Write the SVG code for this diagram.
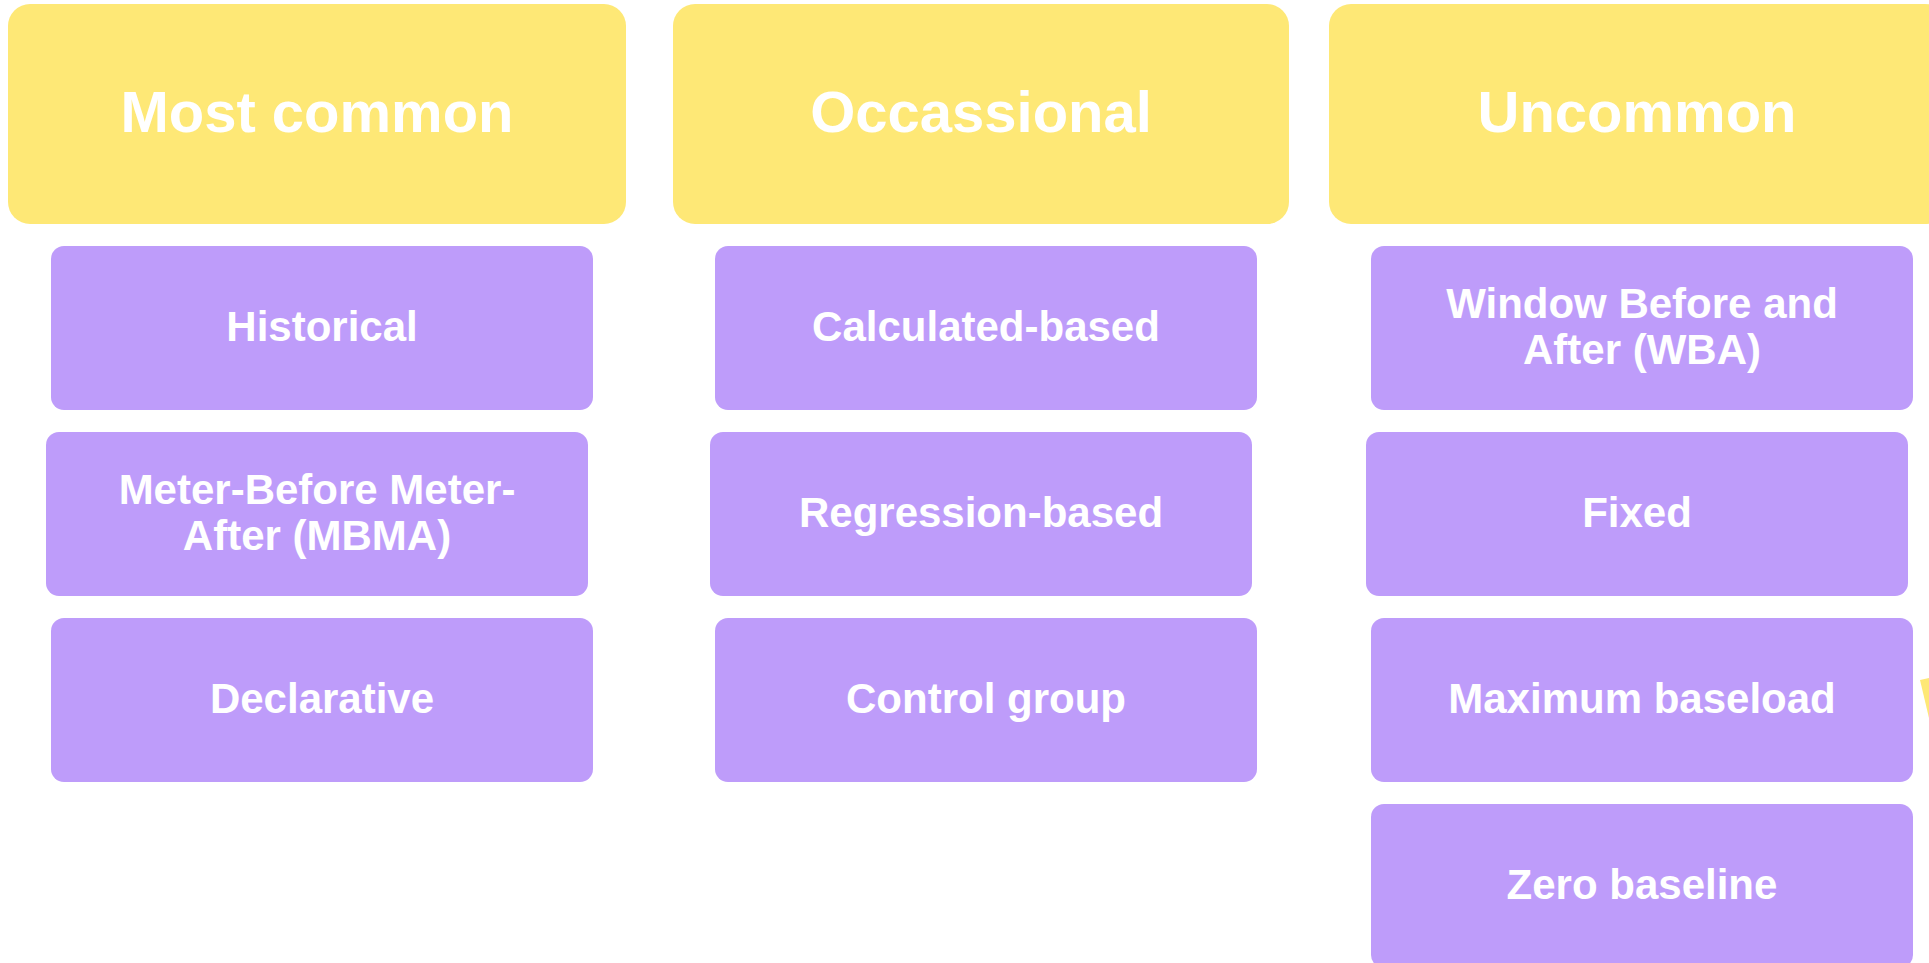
<svg xmlns="http://www.w3.org/2000/svg" width="1929" height="963" viewBox="0 0 1929 963">
<style>
.hdr{fill:#FEE876}
.itm{fill:#BE9CFA}
text{font-family:"Liberation Sans",Arial,sans-serif;font-weight:bold;fill:#FFFFFF;text-anchor:middle}
.ht{font-size:58px}
.it{font-size:42px}
</style>
<rect width="1929" height="963" fill="#FFFFFF"/>
<g id="h-most-common"><rect class="hdr" x="8" y="4" width="618" height="220" rx="22"/><text class="ht" x="317" y="132">Most common</text></g>
<g id="h-occassional"><rect class="hdr" x="673" y="4" width="616" height="220" rx="22"/><text class="ht" x="981" y="132">Occassional</text></g>
<g id="h-uncommon"><rect class="hdr" x="1329" y="4" width="618" height="220" rx="22"/><text class="ht" x="1637" y="132">Uncommon</text></g>

<g id="n-historical"><rect class="itm" x="51" y="246" width="542" height="164" rx="13"/><text class="it" x="322" y="341">Historical</text></g>
<g id="n-mbma"><rect class="itm" x="46" y="432" width="542" height="164" rx="13"/><text class="it" x="317" y="504">Meter-Before Meter-</text><text class="it" x="317" y="550">After (MBMA)</text></g>
<g id="n-declarative"><rect class="itm" x="51" y="618" width="542" height="164" rx="13"/><text class="it" x="322" y="713">Declarative</text></g>

<g id="n-calculated"><rect class="itm" x="715" y="246" width="542" height="164" rx="13"/><text class="it" x="986" y="341">Calculated-based</text></g>
<g id="n-regression"><rect class="itm" x="710" y="432" width="542" height="164" rx="13"/><text class="it" x="981" y="527">Regression-based</text></g>
<g id="n-control"><rect class="itm" x="715" y="618" width="542" height="164" rx="13"/><text class="it" x="986" y="713">Control group</text></g>

<g id="n-wba"><rect class="itm" x="1371" y="246" width="542" height="164" rx="13"/><text class="it" x="1642" y="318">Window Before and</text><text class="it" x="1642" y="364">After (WBA)</text></g>
<g id="n-fixed"><rect class="itm" x="1366" y="432" width="542" height="164" rx="13"/><text class="it" x="1637" y="527">Fixed</text></g>
<g id="n-maxbase"><rect class="itm" x="1371" y="618" width="542" height="164" rx="13"/><text class="it" x="1642" y="713">Maximum baseload</text></g>
<g id="n-zero"><rect class="itm" x="1371" y="804" width="542" height="164" rx="13"/><text class="it" x="1642" y="899">Zero baseline</text></g>

<g id="sliver"><polygon class="hdr" points="1920,680 1929,678 1929,718"/></g>
<g id="connectors"></g>
</svg>
